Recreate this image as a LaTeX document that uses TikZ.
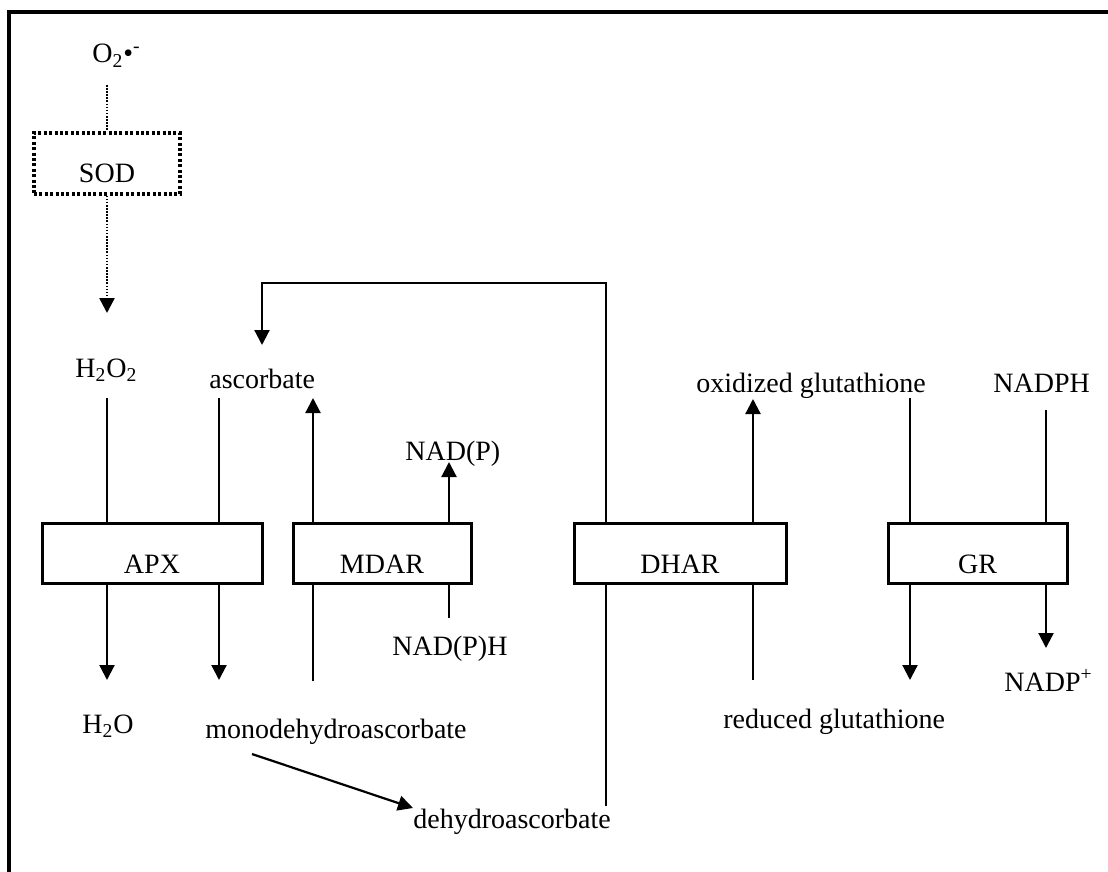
\documentclass[tikz,border=0pt]{standalone}
\usepackage{fontspec}
\setmainfont{Liberation Serif}
\usetikzlibrary{arrows.meta}
\begin{document}
\begin{tikzpicture}[x=0.5pt,y=-0.5pt,
  txt/.style={font=\fontsize{14}{16}\selectfont, inner sep=0pt, anchor=base west},
  boxlabel/.style={font=\fontsize{14}{16}\selectfont, inner sep=0pt, anchor=base},
  enz/.style={draw, line width=1.5pt, inner sep=0pt, minimum height=30pt},
  sodbox/.style={draw, line width=1.6pt, inner sep=0pt, minimum height=30.5pt, dash pattern=on 1.5pt off 1.2pt},
  ln/.style={line width=1.1pt},
  arr/.style={line width=1.1pt, -{Triangle[length=7.5pt,width=7.5pt]}},
  dotln/.style={line width=1.3pt, dash pattern=on 0.8pt off 0.75pt},
]
\useasboundingbox (0,0) rectangle (1108,872);
% frame (right and bottom edges lie outside the picture)
\draw[line width=2.4pt] (9,12) rectangle (1140,900);

% texts
\node[txt] (o2) at (92,63) {O\textsubscript{2}•\textsuperscript{-}};
\node[txt] (h2o2) at (75,377) {H\textsubscript{2}O\textsubscript{2}};
\node[txt] (asc) at (209,388) {ascorbate};
\node[txt] (nadp) at (405,460) {NAD(P)};
\node[txt] (nadph) at (392,655) {NAD(P)H};
\node[txt] (h2o) at (82,733) {H\textsubscript{2}O};
\node[txt] (mda) at (205,738) {monodehydroascorbate};
\node[txt] (dha) at (413,828) {dehydroascorbate};
\node[txt] (gssg) at (696,392) {oxidized glutathione};
\node[txt] (nadphr) at (993,392) {NADPH};
\node[txt] (gsh) at (723,728) {reduced glutathione};
\node[txt] (nadpp) at (1004,691) {NADP\textsuperscript{+}};

% enzyme boxes
\node[sodbox, minimum width=73pt] (sod) at (107,163.5) {};
\node[boxlabel] (sodl) at (107,183) {SOD};
\node[enz, minimum width=110pt] (apx) at (152,553) {};
\node[boxlabel] (apxl) at (152,573) {APX};
\node[enz, minimum width=89pt] (mdar) at (382,553) {};
\node[boxlabel] (mdarl) at (382,573) {MDAR};
\node[enz, minimum width=106pt] (dhar) at (680,553) {};
\node[boxlabel] (dharl) at (680,573) {DHAR};
\node[enz, minimum width=89.5pt] (gr) at (977.5,553) {};
\node[boxlabel] (grl) at (977.5,573) {GR};

% connector end points
\coordinate (o2b) at (107,85);
\coordinate (h2o2t) at (107,313);
\coordinate (lx) at (606,283);
\coordinate (asct) at (262,345);
\coordinate (a1) at (107,398);
\coordinate (a2) at (219,398);
\coordinate (m1) at (313,398);
\coordinate (m2) at (449,462);
\coordinate (b1) at (107,680);
\coordinate (b2) at (219,680);
\coordinate (m3) at (313,681);
\coordinate (m4) at (449,618);
\coordinate (mdas) at (252,754);
\coordinate (dhat) at (413,808);
\coordinate (d1) at (606,806);
\coordinate (d2) at (753,399);
\coordinate (d3) at (753,680);
\coordinate (g1) at (910,398);
\coordinate (g2) at (910,680);
\coordinate (g3) at (1046,410);
\coordinate (g4) at (1046,648);

% SOD
\draw[dotln] (o2b) -- (sod.north);
\draw[dotln, -{Triangle[length=7.5pt,width=7.5pt]}] (sod.south) -- (h2o2t);

% DHAR -> ascorbate loop
\draw[arr] (dhar.north -| lx) -- (lx) -| (asct);

% APX
\draw[ln] (a1) -- (apx.north -| a1);
\draw[ln] (a2) -- (apx.north -| a2);
\draw[arr] (apx.south -| b1) -- (b1);
\draw[arr] (apx.south -| b2) -- (b2);

% MDAR
\draw[arr] (mdar.north -| m1) -- (m1);
\draw[arr] (mdar.north -| m2) -- (m2);
\draw[ln] (m3) -- (mdar.south -| m3);
\draw[ln] (m4) -- (mdar.south -| m4);

% MDA -> DHA
\draw[arr] (mdas) -- (dhat);

% DHAR
\draw[ln] (dhar.south -| d1) -- (d1);
\draw[arr] (dhar.north -| d2) -- (d2);
\draw[ln] (dhar.south -| d3) -- (d3);

% GR
\draw[ln] (g1) -- (gr.north -| g1);
\draw[arr] (gr.south -| g2) -- (g2);
\draw[ln] (g3) -- (gr.north -| g3);
\draw[arr] (gr.south -| g4) -- (g4);
\end{tikzpicture}
\end{document}
